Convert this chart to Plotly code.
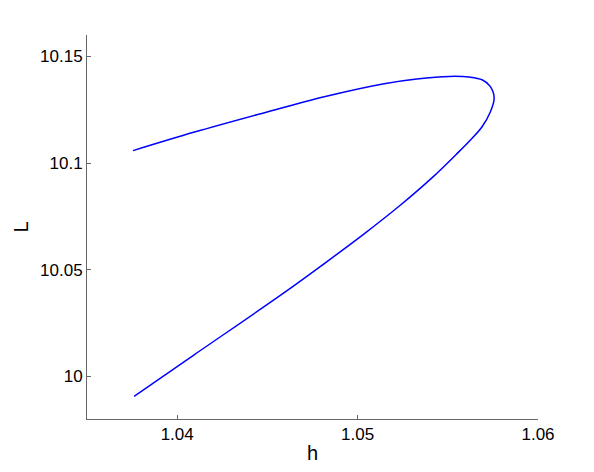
import plotly.graph_objects as go

# continuation curve L(h): upper branch up to the fold, then lower branch
h_upper = [1.03755, 1.04096, 1.04458, 1.04821, 1.05147, 1.05328, 1.05509, 1.05618, 1.0569, 1.05735, 1.05757]
L_upper = [10.1058, 10.1145, 10.1230, 10.1312, 10.1372, 10.1394, 10.1406, 10.1403, 10.1390, 10.1359, 10.1305]

h_lower = [1.05735, 1.0569, 1.05627, 1.05545, 1.05418, 1.05238, 1.05038, 1.04821, 1.04603, 1.04096, 1.03761]
L_lower = [10.1238, 10.1170, 10.1109, 10.1039, 10.0935, 10.0803, 10.0669, 10.0532, 10.0398, 10.0102, 9.9906]

x_ticks = [1.04, 1.05, 1.06]
y_ticks = [10, 10.05, 10.1, 10.15]

h = h_upper + h_lower
L = L_upper + L_lower

fig = go.Figure()
fig.add_trace(go.Scatter(
    x=h, y=L, mode="lines",
    line=dict(color="#0000ff", width=1.5, shape="spline", smoothing=1.0),
    showlegend=False,
))

axis_style = dict(
    showline=True, linecolor="#666666", linewidth=1,
    ticks="inside", ticklen=4, tickcolor="#666666",
    showgrid=False, zeroline=False, mirror=False,
    tickfont=dict(family="Liberation Sans, Arial, sans-serif", size=17, color="black"),
)

# page body has an 8px margin, so the figure is shrunk and shifted to compensate
fig.update_layout(
    width=586, height=464,
    margin=dict(l=69, r=56, t=27, b=53),
    paper_bgcolor="white", plot_bgcolor="white",
    font=dict(family="Liberation Sans, Arial, sans-serif", size=17, color="black"),
    xaxis=dict(range=[1.035, 1.06], tickvals=x_ticks, ticktext=["1.04", "1.05", "1.06"],
               title=dict(text="h", standoff=2), **axis_style),
    yaxis=dict(range=[9.98, 10.16], tickvals=y_ticks, ticktext=["10", "10.05", "10.1", "10.15"],
               title=dict(text="L", standoff=6), **axis_style),
)

fig.write_html("out.html")
